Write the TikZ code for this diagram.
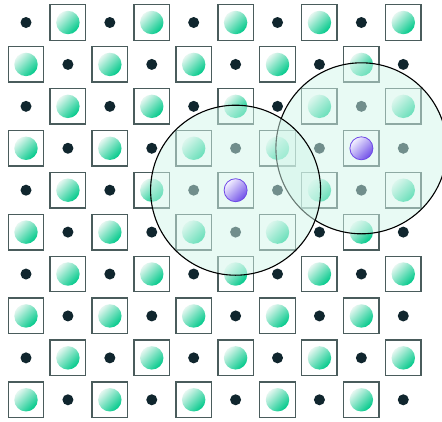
\documentclass[tikz,border=0pt]{standalone}
\definecolor{sqline}{HTML}{4A5C5C}
\definecolor{dotc}{HTML}{10262E}
\definecolor{ballA}{HTML}{E4F7F0}
\definecolor{ballB}{HTML}{00C98A}
\definecolor{purA}{HTML}{F4F2FF}
\definecolor{purB}{HTML}{7050E8}
\definecolor{purL}{HTML}{7048E8}
\definecolor{halo}{RGB}{210,246,234}
\tikzset{
  sitebox/.style={draw=sqline, line width=1.4pt},
  greenball/.style={top color=ballA, bottom color=ballB, shading angle=45},
  darkdot/.style={fill=dotc},
  halozone/.style={fill=halo, fill opacity=0.5, draw=black, line width=1.1pt},
  purpleball/.style={top color=purA, bottom color=purB, shading angle=45, draw=purL, line width=0.8pt}
}
\begin{document}
\begin{tikzpicture}[x=1pt,y=-1pt]
\clip (0,0) rectangle (442,421);
\fill[white] (0,0) rectangle (442,421);
\foreach \i in {0,...,9} {
  \foreach \j in {0,...,9} {
    \pgfmathsetmacro\px{26+41.92*\i}
    \pgfmathsetmacro\py{22.5+41.92*\j}
    \pgfmathtruncatemacro\odd{mod(\i+\j,2)}
    \ifnum\odd=1
      \draw[sitebox] (\px-17.75,\py-17.75) rectangle (\px+17.75,\py+17.75);
      \shade[greenball] (\px,\py) circle (11.7);
    \else
      \fill[darkdot] (\px,\py) circle (5.5);
    \fi
  }
}
\coordinate (c1) at (235.6,190.2);
\coordinate (c2) at (361.4,148.3);
\filldraw[halozone] (c2) circle (85.5);
\filldraw[halozone] (c1) circle (85);
\shade[purpleball] (c1) circle (11.5);
\shade[purpleball] (c2) circle (11.5);
\end{tikzpicture}
\end{document}
